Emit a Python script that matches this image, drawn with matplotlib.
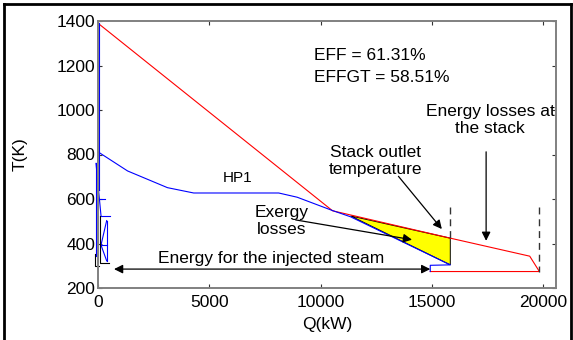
import matplotlib
matplotlib.use("Agg")
import matplotlib.pyplot as plt
from matplotlib.lines import Line2D

plt.rcParams["font.family"] = ["Liberation Sans", "DejaVu Sans"]
plt.rcParams["font.size"] = 12.5

# ===== data =====
# hot gas cooling curve
gas_q = [0, 10540, 15830, 19400, 19833, 14930]
gas_t = [1390, 547, 424, 343, 274, 274]

# steam side heating curve (HP1)
steam_q = [0, 1330, 3120, 4300, 8120, 8950, 10540, 11350, 15830, 14930, 14930]
steam_t = [812, 726, 651, 627, 627, 608, 548, 520, 304, 302, 274]

# small stubs drawn around Q = 0
stub_blue = [
    ([30, 30], [1390, 640]),
    ([-90, -90], [760, 345]),
    ([-90, 135], [760, 525]),
    ([135, 540], [525, 525]),
    ([390, 390], [503, 322]),
    ([390, 135, 390], [503, 393, 322]),
    ([135, 390], [393, 393]),
    ([100, 300], [600, 600]),
    ([0, 60], [640, 640]),
]
stub_black = [
    ([100, 100, 490], [525, 314, 314]),
    ([-120, -120, 50], [353, 297, 297]),
]

# exergy-loss wedge
wedge_q = [11350, 15830, 15830]
wedge_t = [524, 424, 304]

stack_q = 15830
exhaust_q = 19833

eff = 61.31
effgt = 58.51

x_ticks = [0, 5000, 10000, 15000, 20000]
y_ticks = [200, 400, 600, 800, 1000, 1200, 1400]


def plot_tq():
    fig = plt.figure(figsize=(5.73, 3.4), dpi=100)
    ax = fig.add_axes([98 / 573, 52 / 340, 458 / 573, 267 / 340])

    ax.plot(gas_q, gas_t, color="red", lw=0.8)
    ax.plot(steam_q, steam_t, color="blue", lw=0.8)
    for xs, ys in stub_blue:
        ax.plot(xs, ys, color="blue", lw=0.8, clip_on=False)
    for xs, ys in stub_black:
        ax.plot(xs, ys, color="black", lw=0.8, clip_on=False)

    ax.fill(wedge_q, wedge_t, facecolor="#ffff00", edgecolor="black", lw=0.7)

    # section boundaries
    ax.plot([stack_q, stack_q], [566, wedge_t[1]], color="#333333", lw=1.0,
            ls=(0, (5, 3.5)))
    ax.plot([exhaust_q, exhaust_q], [563, 274], color="#333333", lw=1.0,
            ls=(0, (5, 3.5)))

    # labels
    ax.text(9686, 1247, f"EFF = {eff:.2f}%", ha="left", va="center")
    ax.text(9686, 1147, f"EFFGT = {effgt:.2f}%", ha="left", va="center")
    ax.text(17622, 956, "Energy losses at\nthe stack", ha="center", va="center",
            linespacing=1.15)
    ax.text(12466, 772, "Stack outlet\ntemperature", ha="center", va="center",
            linespacing=1.15)
    ax.text(6255, 693, "HP1", ha="center", va="center", fontsize=11)
    ax.text(8250, 500, "Exergy\nlosses", ha="center", va="center",
            linespacing=1.15)
    ax.text(7757, 331, "Energy for the injected steam", ha="center", va="center")

    arrow = dict(arrowstyle="-|>", color="black", lw=0.9, mutation_scale=13,
                 shrinkA=0, shrinkB=0)
    ax.annotate("", xy=(14930, 285), xytext=(720, 285),
                arrowprops=dict(arrow, arrowstyle="<|-|>"))
    ax.annotate("", xy=(14110, 417), xytext=(8880, 506), arrowprops=arrow)
    ax.annotate("", xy=(15450, 465), xytext=(13500, 702), arrowprops=arrow)
    ax.annotate("", xy=(17440, 412), xytext=(17440, 812), arrowprops=arrow)

    ax.set_xlim(0, 20580)
    ax.set_ylim(200, 1400)
    ax.set_xticks(x_ticks)
    ax.set_yticks(y_ticks)
    ax.tick_params(direction="in", length=3, width=0.8, color="#333333",
                   top=True, right=True, pad=2)
    ax.tick_params(axis="x", pad=5)
    for sp in ax.spines.values():
        sp.set_color("#808080")
        sp.set_linewidth(1.4)

    ax.set_xlabel("Q(kW)", labelpad=5)
    ax.set_ylabel("T(K)", labelpad=21)

    # figure frame (left, top, right)
    for xs, ys in [([3.5, 3.5], [0, 336.5]), ([3.5, 570.5], [336.5, 336.5]),
                   ([570.5, 570.5], [336.5, 0])]:
        fig.add_artist(Line2D([x / 573 for x in xs], [y / 340 for y in ys],
                              color="black", lw=2.0))

    fig.savefig("out.png", dpi=100)
    plt.close(fig)


if __name__ == "__main__":
    plot_tq()
